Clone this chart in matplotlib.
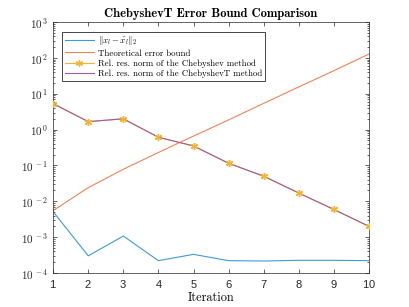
import math
import matplotlib
matplotlib.use('Agg')
import matplotlib.pyplot as plt
from matplotlib.ticker import FixedLocator, FuncFormatter, NullFormatter

# data
iterations = [1, 2, 3, 4, 5, 6, 7, 8, 9, 10]
err_norm = [5.1e-3, 3.0e-4, 1.07e-3, 2.2e-4, 3.3e-4, 2.2e-4, 2.15e-4, 2.25e-4, 2.25e-4, 2.2e-4]
theory_bound = [5.5e-3, 2.4e-2, 7.8e-2, 0.23, 0.66, 1.86, 5.4, 15.5, 44.0, 128.0]
res_cheb = [5.3, 1.67, 2.0, 0.61, 0.35, 0.115, 0.050, 0.017, 0.0059, 0.0020]
res_chebT = [5.3, 1.67, 2.0, 0.61, 0.35, 0.115, 0.050, 0.017, 0.0059, 0.0020]
decades = [-4, -3, -2, -1, 0, 1, 2, 3]

labels = [r'$\|x_l - \hat{x}_l\|_2$',
          'Theoretical error bound',
          'Rel. res. norm of the Chebyshev method',
          'Rel. res. norm of the ChebyshevT method']

plt.rcParams['mathtext.fontset'] = 'cm'
plt.rcParams['axes.formatter.use_mathtext'] = True

c_blue = '#3f9ad6'
c_orange = '#ee8458'
c_yellow = '#f2b431'
c_purple = '#9e5aa3'
star = (6, 2, 0)  # asterisk marker like matlab's '*'

fig = plt.figure(figsize=(4.09, 3.07), dpi=100)
ax = fig.add_axes([0.130, 0.111, 0.772, 0.817])

ax.plot(iterations, err_norm, color=c_blue, lw=0.8, label=labels[0])
ax.plot(iterations, theory_bound, color=c_orange, lw=0.8, label=labels[1])
ax.plot(iterations, res_cheb, color=c_yellow, lw=0.8, marker=star, ms=5,
        mec=c_yellow, mew=0.9, label=labels[2], zorder=2)
ax.plot(iterations, res_chebT, color=c_purple, lw=0.8, label=labels[3], zorder=2.5)
# asterisks stay visible on top of the purple line
ax.plot(iterations, res_cheb, ls='none', marker=star, ms=5,
        mec=c_yellow, mew=0.9, zorder=3)

ax.set_yscale('log')
ax.set_xlim(1, 10)
ax.set_ylim(1e-4, 1e3)
ax.set_xticks(iterations)

majors = [10.0 ** d for d in decades]
minors = [k * 10.0 ** d for d in decades[:-1] for k in range(2, 10)]
ax.yaxis.set_major_locator(FixedLocator(majors))
ax.yaxis.set_minor_locator(FixedLocator(minors))
ax.yaxis.set_minor_formatter(NullFormatter())
ax.yaxis.set_major_formatter(FuncFormatter(
    lambda v, p: r'$\mathsf{10^{\,%d}}$' % round(math.log10(v))))

ax.tick_params(which='both', direction='in', top=True, right=True,
               colors='#262626', labelsize=8, width=0.5)
ax.tick_params(which='major', length=3)
ax.tick_params(which='minor', length=1.5)
ax.tick_params(axis='x', labelsize=8, pad=4)
for lbl in ax.get_xticklabels():
    lbl.set_family('Liberation Sans')
for sp in ax.spines.values():
    sp.set_linewidth(0.5)
    sp.set_color('#262626')

ax.set_title('ChebyshevT Error Bound Comparison', fontfamily='cmb10',
             fontsize=9, pad=4)
ax.set_xlabel('Iteration', fontfamily='cmr10', fontsize=8.8, labelpad=1)

leg = ax.legend(loc='upper left', bbox_to_anchor=(0.028, 0.962),
                prop={'family': 'cmr10', 'size': 6.4}, fancybox=False,
                edgecolor='#262626', framealpha=1, handlelength=3.3,
                borderpad=0.3, labelspacing=0.2, handletextpad=0.5,
                borderaxespad=0)
leg.get_frame().set_linewidth(0.6)

fig.savefig('out.png', dpi=100)
